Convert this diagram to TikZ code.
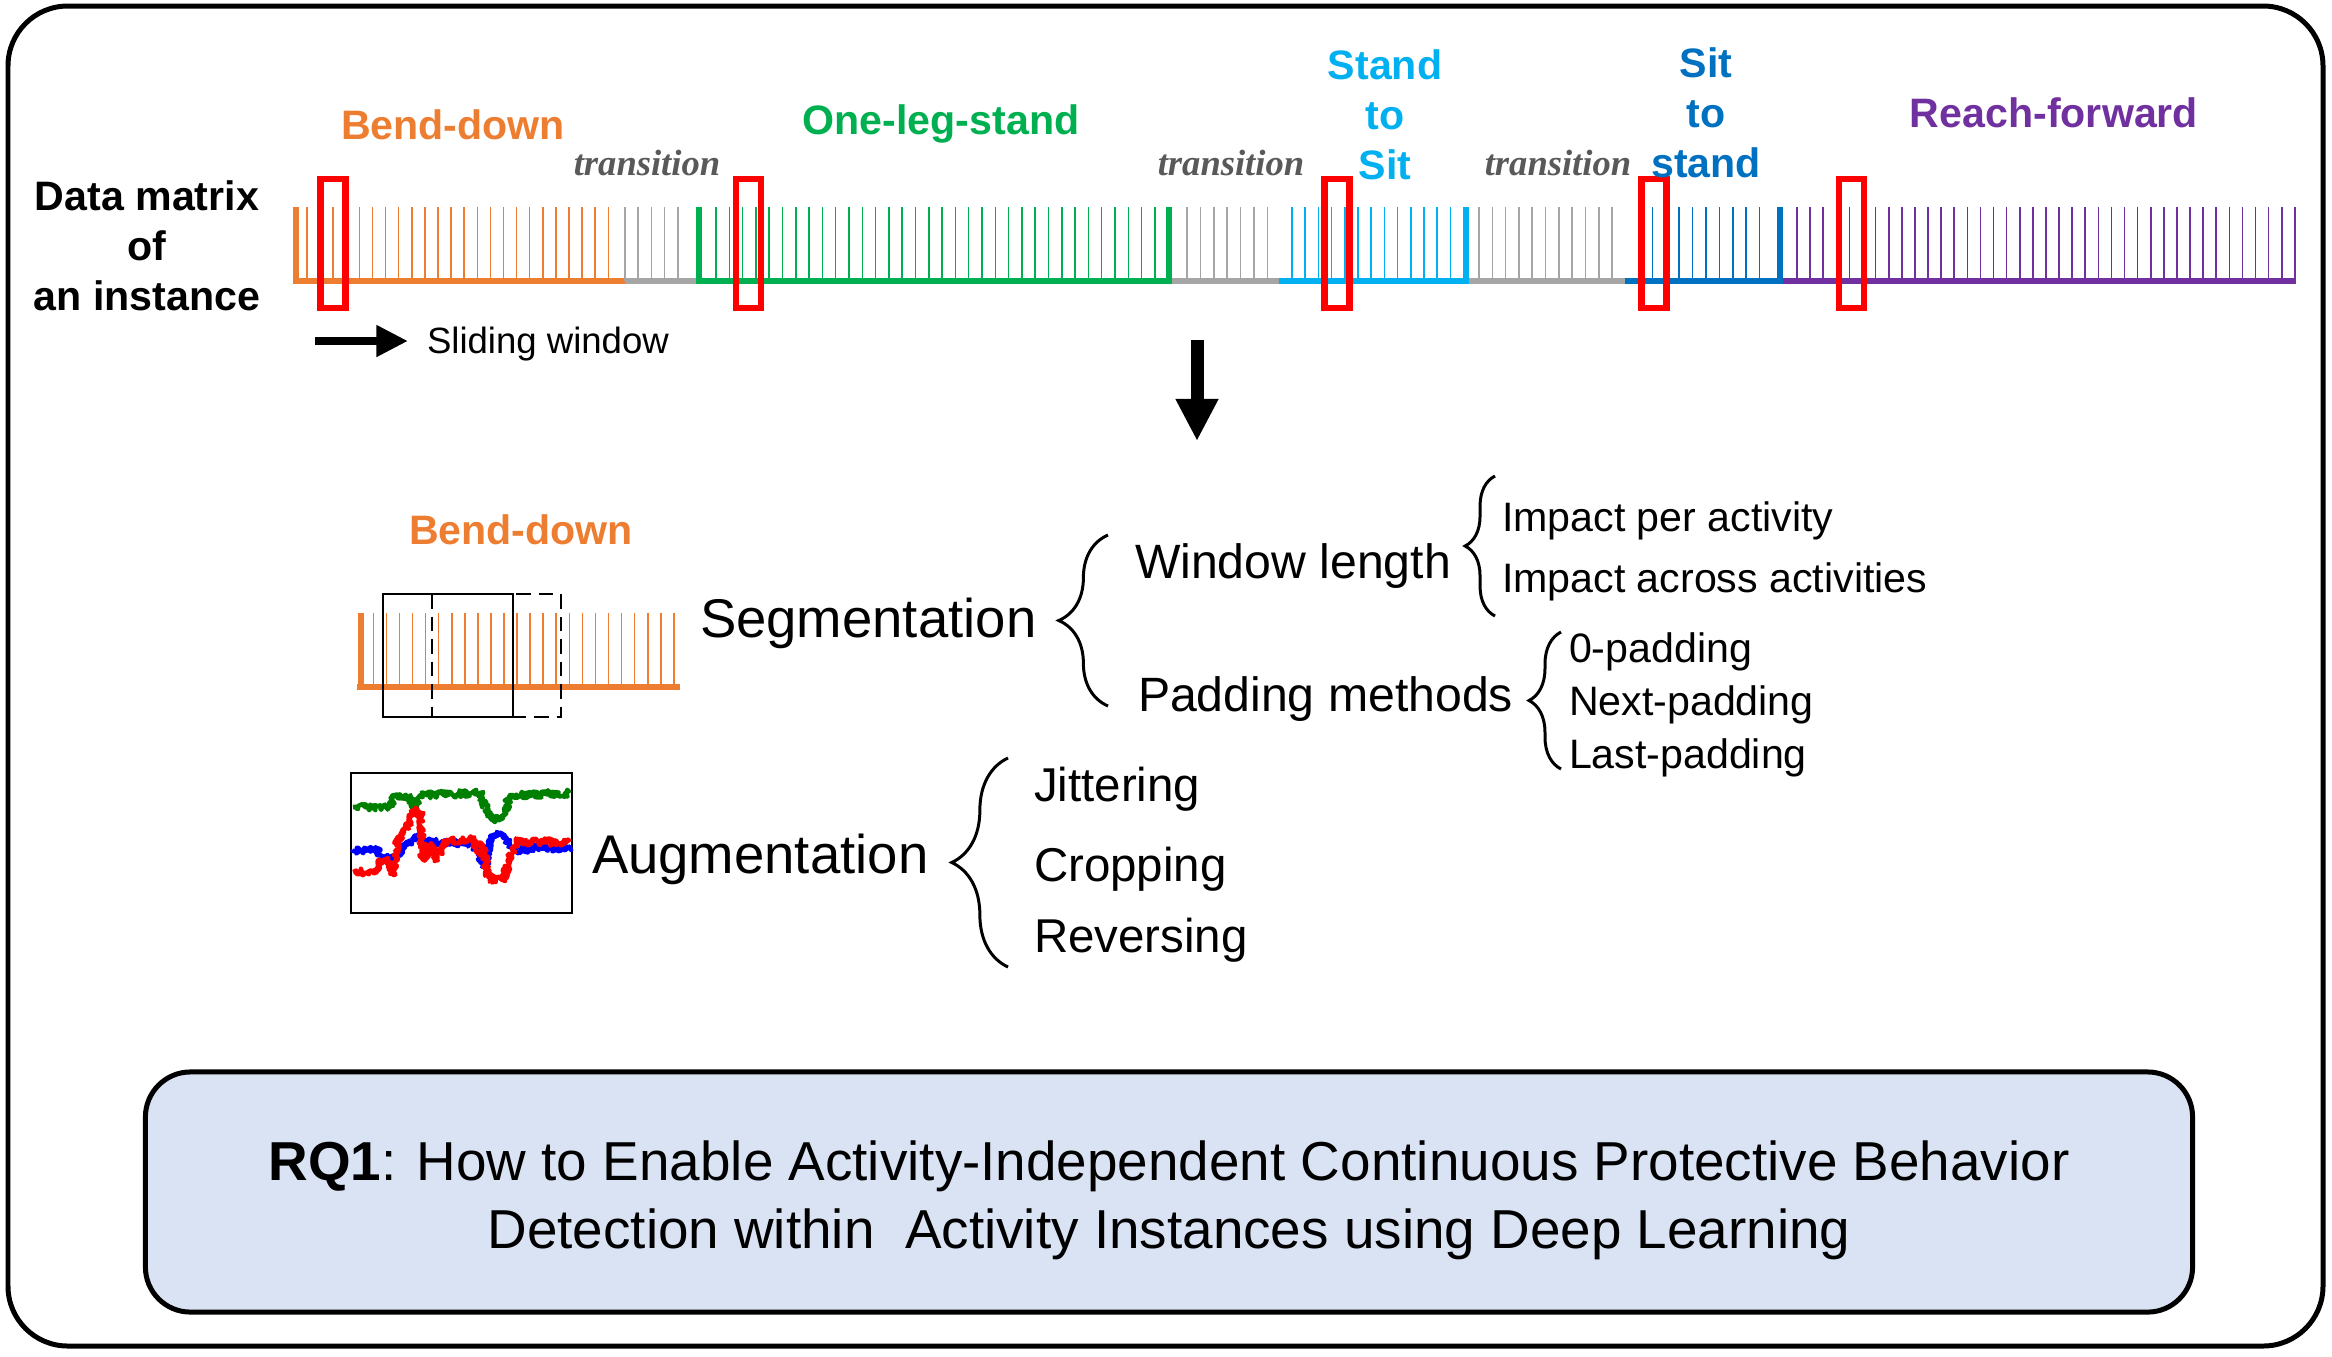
\documentclass[tikz,border=0pt]{standalone}
\usepackage{fontspec}
\setmainfont{Liberation Sans}
\newfontfamily\trfont{Liberation Serif}
\usetikzlibrary{arrows.meta,decorations.pathreplacing,decorations.pathmorphing}
\definecolor{corange}{HTML}{ED7D31}
\definecolor{cgreen}{HTML}{00B050}
\definecolor{ccyan}{HTML}{00B0F0}
\definecolor{cblue}{HTML}{0070C0}
\definecolor{cpurple}{HTML}{7030A0}
\definecolor{cgray}{HTML}{A5A5A5}
\definecolor{transgray}{HTML}{595959}
\definecolor{rqfill}{HTML}{DAE3F3}
\definecolor{sgreen}{HTML}{008000}
\definecolor{sblue}{HTML}{0000FF}
\definecolor{sred}{HTML}{FF0000}
\tikzset{
  thintick/.style={line width=0.45pt},
  thicktick/.style={line width=1.7pt},
  baseln/.style={line width=1.7pt},
  redbox/.style={draw=red, line width=1.85pt},
  txt/.style={inner sep=0pt, outer sep=0pt},
  actlab/.style={txt, font=\bfseries\fontsize{11.7}{14.2}\selectfont, align=center},
  trans/.style={txt, font=\trfont\bfseries\itshape\fontsize{10.4}{12}\selectfont, text=transgray, anchor=mid},
  big/.style={txt, anchor=mid west, font=\fontsize{15.5}{18}\selectfont},
  mid1/.style={txt, anchor=mid west, font=\fontsize{13.7}{16}\selectfont},
  mid2/.style={txt, anchor=mid west, font=\fontsize{13.5}{16}\selectfont},
  small/.style={txt, anchor=mid west, font=\fontsize{11.7}{14}\selectfont},
  mybrace/.style={decorate, line width=0.85pt},
  signal/.style={line width=1.3pt, line join=round, decorate, decoration={random steps, segment length=0.3pt, amplitude=1.0pt}},
}
\begin{document}
\begin{tikzpicture}[x=0.01cm,y=-0.01cm]
\useasboundingbox (0,0) rectangle (2332,1356);
\pgfmathsetseed{11}
% outer frame
\draw[line width=1.42pt, rounded corners=17pt] (8,6) rectangle (2323,1346);

% ---------- data sequence ----------
% orange
\foreach \k in {0,...,23} \draw[thintick, corange] ({307+13.1*\k},207) -- ({307+13.1*\k},281);
\draw[thicktick, corange] (296,207) -- (296,281);
\draw[baseln, corange] (293,281) -- (625,281);
% gray 1
\foreach \k in {0,...,4} \draw[thintick, cgray] ({625+13.2*\k},207) -- ({625+13.2*\k},281);
\draw[baseln, cgray] (625,281) -- (696,281);
% green
\foreach \k in {0,...,33} \draw[thintick, cgreen] ({716+13.3*\k},207) -- ({716+13.3*\k},281);
\draw[thicktick, cgreen] (699,207) -- (699,281);
\draw[thicktick, cgreen] (1169,207) -- (1169,281);
\draw[baseln, cgreen] (696,281) -- (1172,281);
% gray 2
\foreach \k in {0,...,6} \draw[thintick, cgray] ({1187+13.4*\k},207) -- ({1187+13.4*\k},281);
\draw[baseln, cgray] (1172,281) -- (1279,281);
% cyan
\foreach \k in {0,...,12} \draw[thintick, ccyan] ({1292+13.2*\k},207) -- ({1292+13.2*\k},281);
\draw[thicktick, ccyan] (1466,207) -- (1466,281);
\draw[baseln, ccyan] (1279,281) -- (1469,281);
% gray 3
\foreach \k in {0,...,10} \draw[thintick, cgray] ({1479+13.3*\k},207) -- ({1479+13.3*\k},281);
\draw[baseln, cgray] (1469,281) -- (1625,281);
% dark blue
\foreach \k in {0,...,9} \draw[thintick, cblue] ({1639+13.4*\k},207) -- ({1639+13.4*\k},281);
\draw[thicktick, cblue] (1780,207) -- (1780,281);
\draw[baseln, cblue] (1625,281) -- (1783,281);
% purple
\foreach \k in {0,...,38} \draw[thintick, cpurple] ({1797+13.1*\k},207) -- ({1797+13.1*\k},281);
\draw[baseln, cpurple] (1783,281) -- (2296,281);

% red windows
\foreach \cx in {333,748.5,1337,1654,1851.5}
  \draw[redbox] ({\cx-12.5},179) rectangle ({\cx+12.5},308);

% labels of the sequence
\node[actlab] (dm) at (147,246) {Data matrix\\of\\an instance};
\node[actlab, text=corange, anchor=mid] (bd1) at (453,130) {Bend-down};
\node[trans] (tr1) at (647,166) {transition};
\node[actlab, text=cgreen, anchor=mid] (ol) at (941,125) {One-leg-stand};
\node[trans] (tr2) at (1231,166) {transition};
\node[actlab, text=ccyan] (sts) at (1385,115) {Stand\\to\\Sit};
\node[trans] (tr3) at (1558,166) {transition};
\node[actlab, text=cblue] (sis) at (1706,113) {Sit\\to\\stand};
\node[actlab, text=cpurple, anchor=mid] (rf) at (2054,118) {Reach-forward};

% sliding window arrow
\coordinate (sw0) at (315,341);
\coordinate (sw1) at (408,341);
\draw[line width=2.3pt, -{Triangle[length=9pt,width=8.5pt]}] (sw0) -- (sw1);
\node[txt, anchor=mid west, font=\fontsize{10.4}{12}\selectfont] (sw) at (427,344) {Sliding window};

% down arrow
\coordinate (da0) at (1197,340);
\coordinate (da1) at (1197,441);
\draw[line width=3.7pt, -{Triangle[length=12pt,width=11.4pt]}] (da0) -- (da1);

% ---------- segmentation ----------
\node[actlab, text=corange, anchor=mid] (bd2) at (521,535) {Bend-down};
\foreach \k in {0,...,23} \draw[thintick, corange] ({373.3+13.07*\k},613) -- ({373.3+13.07*\k},687);
\draw[thicktick, corange] (361,613) -- (361,687);
\draw[line width=1.45pt, corange] (357,687) -- (680,687);
\draw[line width=0.6pt] (383,594) rectangle (513,717);
\draw[line width=0.6pt, dash pattern=on 4.2pt off 2.2pt] (432,594) rectangle (561,717);

\node[big] (seg) at (700,628) {Segmentation};
\draw[mybrace, decoration={brace, amplitude=14pt}] (1108,706) -- (1108,535);
\node[mid1] (wl) at (1135,569) {Window length};
\node[mid1] (pm) at (1138,702) {Padding methods};
\draw[mybrace, decoration={brace, amplitude=8.5pt}] (1495,616) -- (1495,476);
\node[small] (ipa) at (1502,522) {Impact per activity};
\node[small] (iaa) at (1502,583) {Impact across activities};
\draw[mybrace, decoration={brace, amplitude=9.1pt}] (1561,769) -- (1561,632);
\node[small] (p0) at (1569,653) {0-padding};
\node[small] (pn) at (1569,706) {Next-padding};
\node[small] (pl) at (1569,759) {Last-padding};

% ---------- augmentation ----------
\draw[line width=0.45pt] (351,773) rectangle (572,913);
\draw[signal, sgreen] plot coordinates {(353,807) (390,807) (395,795) (410,797) (415,808) (420,795) (450,794) (480,793) (487,810) (493,820) (503,818) (510,795) (540,794) (570,793)};
\draw[signal, sblue] plot coordinates {(353,850) (377,850) (382,858) (393,858) (407,845) (420,835) (427,842) (450,843) (473,843) (480,855) (485,868) (490,838) (497,833) (507,840) (513,850) (540,848) (570,848)};
\draw[signal, sred] plot coordinates {(353,872) (377,872) (380,860) (390,862) (393,875) (398,843) (407,828) (415,808) (420,812) (423,860) (430,845) (437,860) (443,843) (460,840) (473,838) (480,855) (483,845) (488,875) (493,880) (503,880) (510,858) (517,842) (540,842) (570,842)};

\node[big] (aug) at (592,864) {Augmentation};
\draw[mybrace, decoration={brace, amplitude=16pt}] (1008,967) -- (1008,758);
\node[mid2] (jit) at (1034,792) {Jittering};
\node[mid2] (crop) at (1034,872) {Cropping};
\node[mid2] (rev) at (1034,943) {Reversing};

% ---------- research question ----------
\node[draw, line width=1.42pt, fill=rqfill, rounded corners=12.8pt, minimum width=20.46cm, minimum height=2.4cm] (rq) at (1169,1192) {};
\node[txt, align=center, font=\fontsize{15.6}{19.3}\selectfont] (rqt) at (1169,1200)
  {\textbf{RQ1}: How to Enable Activity-Independent Continuous Protective Behavior\\Detection within\ \ Activity Instances using Deep Learning};
\end{tikzpicture}
\end{document}
